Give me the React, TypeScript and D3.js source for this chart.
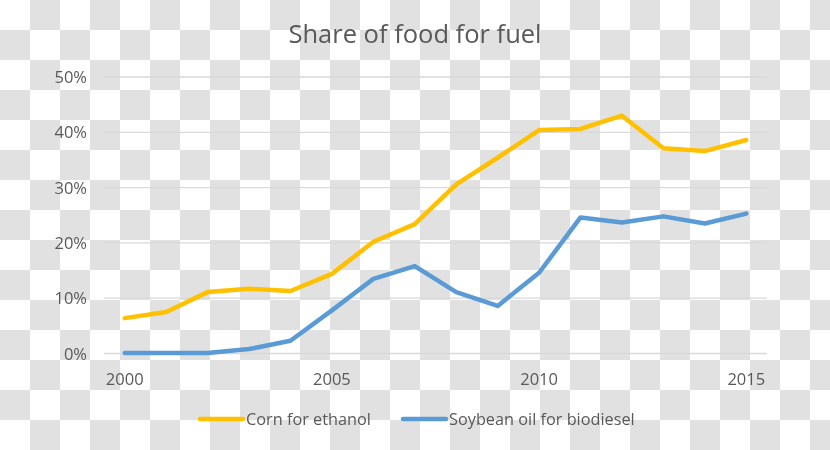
import React from "react";
import * as d3 from "d3";

const years = [2000, 2001, 2002, 2003, 2004, 2005, 2006, 2007, 2008, 2009, 2010, 2011, 2012, 2013, 2014, 2015];
const cornForEthanol = [6.4, 7.5, 11.1, 11.7, 11.3, 14.4, 20.2, 23.4, 30.6, 35.4, 40.4, 40.6, 43.0, 37.1, 36.6, 38.6];
const soybeanOilForBiodiesel = [0.1, 0.1, 0.1, 0.8, 2.3, 7.8, 13.5, 15.8, 11.1, 8.6, 14.6, 24.6, 23.7, 24.8, 23.5, 25.3];
const yTicks = [0, 10, 20, 30, 40, 50];
const xTickLabels = [2000, 2005, 2010, 2015];
const seriesNames = ["Corn for ethanol", "Soybean oil for biodiesel"];

const W = 830;
const H = 450;
const FONT = "'Open Sans', 'Noto Sans', sans-serif";
const TEXT = "#595959";
const COLORS = ["#FFC000", "#5B9BD5"];

export default function App() {
  const x = d3.scalePoint<number>().domain(years).range([104, 767]).padding(0.5);
  const y = d3.scaleLinear().domain([0, 50]).range([353.5, 77]);
  const line = d3
    .line<number>()
    .x((_, i) => x(years[i]) as number)
    .y((v) => y(v));
  const series = [cornForEthanol, soybeanOilForBiodiesel];

  return (
    <div style={{ position: "fixed", left: 0, top: 0 }}>
      <svg width={W} height={H} style={{ display: "block" }}>
        <defs>
          <pattern id="checker" width={60} height={60} patternUnits="userSpaceOnUse">
            <rect width={60} height={60} fill="#ffffff" />
            <rect x={30} y={0} width={30} height={30} fill="#e1e1e1" />
            <rect x={0} y={30} width={30} height={30} fill="#e1e1e1" />
          </pattern>
        </defs>
        <rect width={W} height={H} fill="url(#checker)" />
        <text x={415} y={43} textAnchor="middle" fontFamily={FONT} fontSize={25.5} fill={TEXT}>
          Share of food for fuel
        </text>
        {yTicks.map((t) => (
          <g key={t}>
            <line x1={104} x2={767} y1={y(t)} y2={y(t)} stroke="#d9d9d9" strokeWidth={1.3} />
            <text x={87} y={y(t) + 6} textAnchor="end" fontFamily={FONT} fontSize={16.5} fill={TEXT}>
              {t}%
            </text>
          </g>
        ))}
        {xTickLabels.map((t) => (
          <text key={t} x={x(t) as number} y={384.5} textAnchor="middle" fontFamily={FONT} fontSize={16.5} fill={TEXT}>
            {t}
          </text>
        ))}
        {series.map((s, i) => (
          <path
            key={i}
            d={line(s) || ""}
            fill="none"
            stroke={COLORS[i]}
            strokeWidth={4.5}
            strokeLinecap="round"
            strokeLinejoin="round"
          />
        ))}
        {seriesNames.map((n, i) => {
          const lx = i === 0 ? 200 : 403;
          return (
            <g key={n}>
              <line x1={lx} x2={lx + 43} y1={419} y2={419} stroke={COLORS[i]} strokeWidth={4.5} strokeLinecap="round" />
              <text x={lx + 46} y={425} fontFamily={FONT} fontSize={16.3} fill={TEXT}>
                {n}
              </text>
            </g>
          );
        })}
      </svg>
    </div>
  );
}
